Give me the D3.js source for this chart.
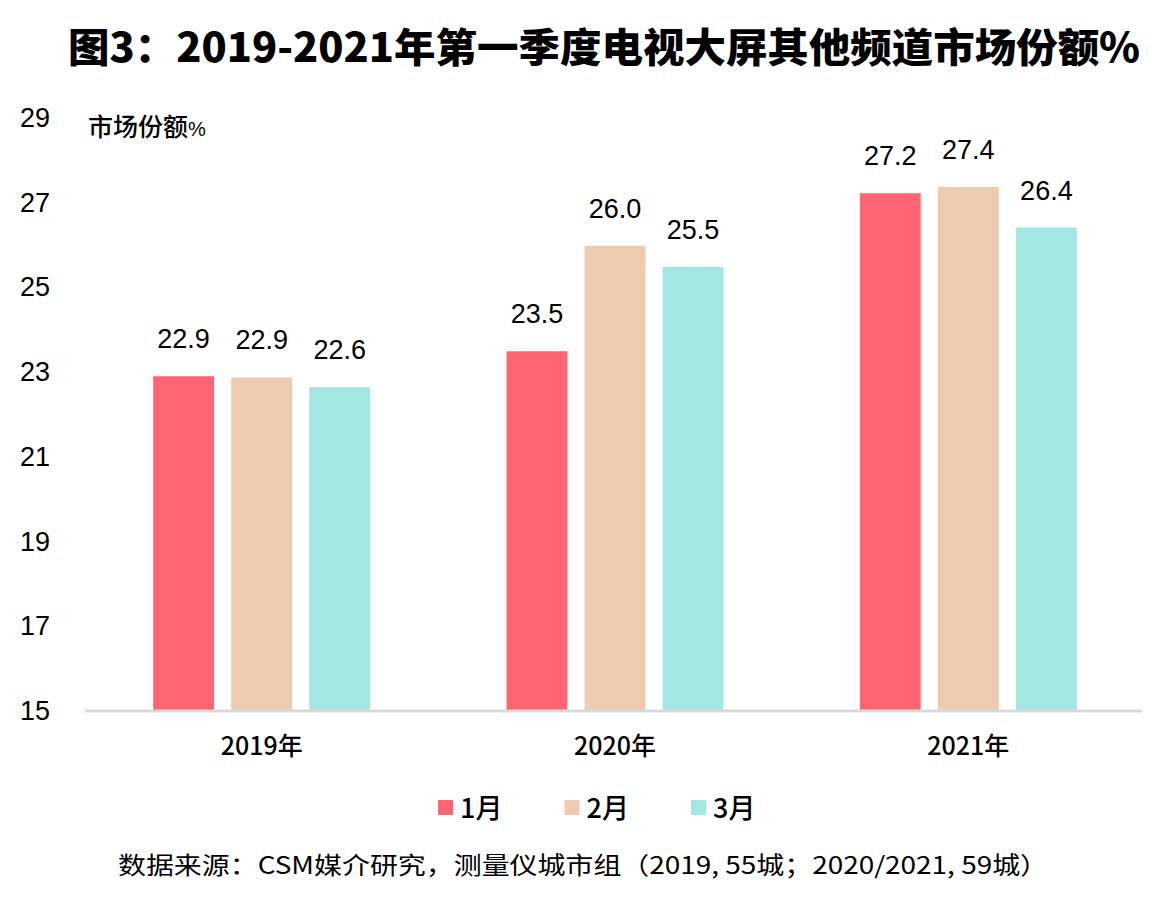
<!DOCTYPE html>
<html><head><meta charset="utf-8">
<script src="https://cdn.jsdelivr.net/npm/d3@7/dist/d3.min.js"></script>
<style>
body{margin:0;background:#fff;}
svg{display:block;}
</style></head>
<body>
<svg id="c" width="1157" height="898"></svg>
<script>
const years = ["2019年","2020年","2021年"];
const months = ["1月","2月","3月"];
const jan = [22.88, 23.47, 27.2];
const feb = [22.85, 25.96, 27.35];
const mar = [22.62, 25.46, 26.39];
const yTicks = [15,17,19,21,23,25,27,29];
const colors = ["#FF6473","#ECCBB1","#A3E7E3"];

const series = [jan, feb, mar];
const svg = d3.select("#c");
const latin = "'Liberation Sans', Arial, 'Noto Sans CJK SC', sans-serif";
const cjk = "'Noto Sans CJK SC', 'Liberation Sans', sans-serif";

svg.append("text").attr("x",68).attr("y",62)
  .attr("font-family",cjk).attr("font-weight",900).attr("font-size",40)
  .attr("textLength",1072).attr("lengthAdjust","spacingAndGlyphs")
  .attr("fill","#000").text("图3：2019-2021年第一季度电视大屏其他频道市场份额%");

const y = d3.scaleLinear().domain([15,29]).range([710,117]);
const x0 = d3.scaleBand().domain(years).range([85,1145]).padding(0);
const x1 = d3.scaleBand().domain(months).range([-108.5,108.5]).paddingInner(0.22).paddingOuter(0);

// y tick labels
svg.append("g").selectAll("text").data(yTicks).join("text")
  .attr("x",50).attr("y",d=>y(d)+10).attr("text-anchor","end")
  .attr("font-family",latin).attr("font-size",27).attr("fill","#000").text(d=>d);

const unit = svg.append("text").attr("x",88).attr("y",136).attr("font-family",cjk)
  .attr("font-size",25).attr("font-weight",500).attr("fill","#000");
unit.append("tspan").text("市场份额");
unit.append("tspan").attr("font-size",20).attr("font-family",latin).text("%");

// bars
const g = svg.append("g");
years.forEach((yr,i)=>{
  const cx = x0(yr)+x0.bandwidth()/2;
  months.forEach((m,j)=>{
    const v = series[j][i];
    g.append("rect").attr("x",cx+x1(m)).attr("y",y(v))
      .attr("width",x1.bandwidth()).attr("height",y(15)-y(v)).attr("fill",colors[j]);
    g.append("text").attr("x",cx+x1(m)+x1.bandwidth()/2).attr("y",y(v)-28)
      .attr("text-anchor","middle").attr("font-family",latin).attr("font-size",27)
      .attr("fill","#000").text(v.toFixed(1));
  });
  svg.append("text").attr("x",cx).attr("y",755).attr("text-anchor","middle")
    .attr("font-family",cjk).attr("font-weight",500).attr("font-size",25).attr("fill","#000").text(yr);
});

// axis line
svg.append("line").attr("x1",85).attr("x2",1142).attr("y1",y(15)+1).attr("y2",y(15)+1)
  .attr("stroke","#d9d9d9").attr("stroke-width",3);

// legend
const lg = svg.append("g");
months.forEach((m,j)=>{
  const lx = 438 + j*126.5;
  lg.append("rect").attr("x",lx).attr("y",800).attr("width",15).attr("height",15).attr("fill",colors[j]);
  lg.append("text").attr("x",lx+22).attr("y",818).attr("font-family",cjk)
    .attr("font-weight",500).attr("font-size",27).attr("fill","#000").text(m);
});

svg.append("text").attr("x",118).attr("y",874).attr("font-family",cjk)
  .attr("font-size",24).attr("textLength",930).attr("lengthAdjust","spacingAndGlyphs")
  .attr("fill","#000")
  .text("数据来源：CSM媒介研究，测量仪城市组（2019, 55城；2020/2021, 59城）");
</script>
</body></html>
